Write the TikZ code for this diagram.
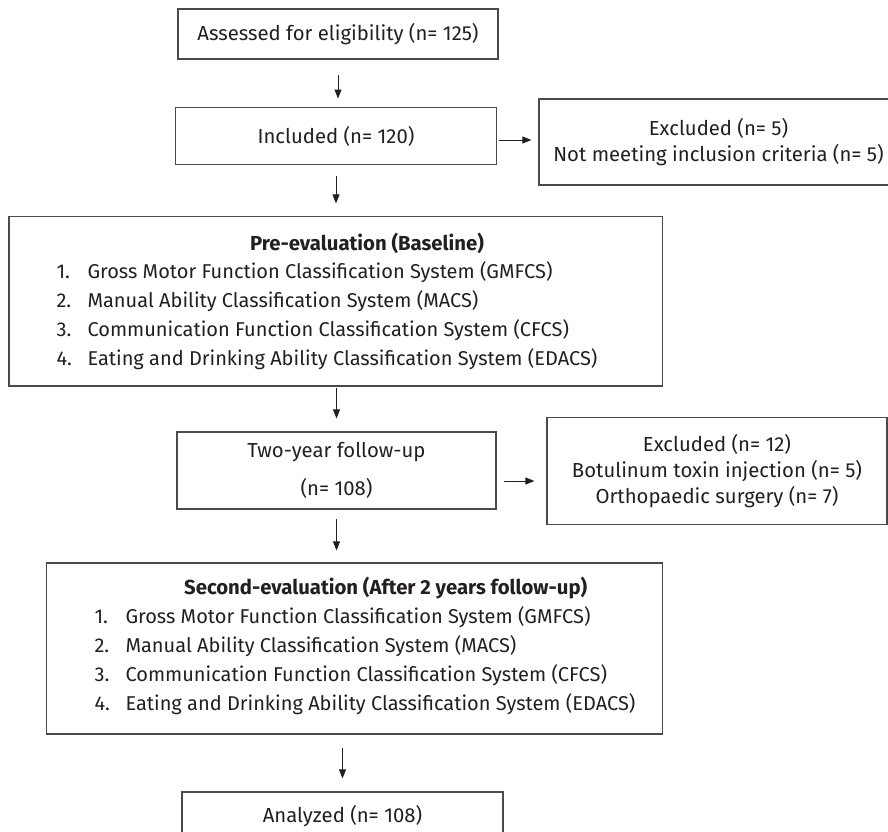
\documentclass[tikz,border=0pt]{standalone}
\usepackage{fontspec}
\setmainfont{Fira Sans}
\usetikzlibrary{arrows.meta}
\definecolor{linegray}{HTML}{4A4A4A}
\definecolor{textgray}{HTML}{231F20}
\newcommand{\itm}[2]{\makebox[31pt][l]{#1.}#2}

\begin{document}
\begin{tikzpicture}[x=1pt,y=-1pt,
  font=\fontsize{20.3}{26}\selectfont,
  box/.style={draw=linegray, line width=1.2pt, inner sep=0pt, align=center, text=textgray},
  arr/.style={-{Triangle[width=7pt,length=9pt]}, line width=1pt, draw=textgray},
  lst/.style={align=left, text=textgray, font=\fontsize{20}{29}\selectfont}]
  \useasboundingbox (0,0) rectangle (888,831);

  % main column
  \node[box, minimum width=320pt, minimum height=50pt] (assess) at (338,34) {Assessed for eligibility (n= 125)};
  \node[box, minimum width=320.5pt, minimum height=56.5pt] (incl) at (336,136) {Included (n= 120)};
  \node[box, minimum width=653.5pt, minimum height=169.3pt] (pre) at (335.75,301.35) {};
  \node[text=textgray] (pretitle) at (367,243) {\bfseries Pre-evaluation (Baseline)};
  \node[lst, anchor=west] (prelist) at (53,315.5) {\itm{1}{Gross Motor Function Classification System (GMFCS)}\\
    \itm{2}{Manual Ability Classification System (MACS)}\\
    \itm{3}{Communication Function Classification System (CFCS)}\\
    \itm{4}{Eating and Drinking Ability Classification System (EDACS)}};
  \node[box, minimum width=319pt, minimum height=77pt] (two) at (336.5,470.5) {Two-year follow-up\\[12pt](n= 108)};
  \node[box, minimum width=616pt, minimum height=171pt] (second) at (354.45,648.5) {};
  \node[text=textgray] (sectitle) at (385.7,588) {\bfseries Second-evaluation (After 2 years follow-up)};
  \node[lst, anchor=west] (seclist) at (91,660.5) {\itm{1}{Gross Motor Function Classification System (GMFCS)}\\
    \itm{2}{Manual Ability Classification System (MACS)}\\
    \itm{3}{Communication Function Classification System (CFCS)}\\
    \itm{4}{Eating and Drinking Ability Classification System (EDACS)}};
  \node[box, minimum width=321pt, minimum height=48pt] (analyzed) at (342.5,816) {Analyzed (n= 108)};

  % exclusions
  \node[box, minimum width=359pt, minimum height=86pt] (excla) at (718.5,142) {Excluded (n= 5)\\Not meeting inclusion criteria (n= 5)};
  \node[box, minimum width=340pt, minimum height=107.6pt] (exclb) at (717,471) {Excluded (n= 12)\\Botulinum toxin injection (n= 5)\\Orthopaedic surgery (n= 7)};

  \draw[arr, shorten <=15pt, shorten >=8.6pt] (assess.south) -- (assess.south |- incl.north);
  \draw[arr, shorten <=11pt, shorten >=12.7pt] (incl.south) -- (incl.south |- pre.north);
  \draw[arr, shorten <=1pt, shorten >=13pt] (two.north |- pre.south) -- (two.north);
  \draw[arr, shorten <=9pt, shorten >=12pt] (two.south) -- (two.south |- second.north);
  \draw[arr, shorten <=13pt, shorten >=13pt] (analyzed.north |- second.south) -- (analyzed.north);
  \draw[arr, shorten <=2pt, shorten >=7pt] ([yshift=-4pt]incl.east) -- ([yshift=-4pt]incl.east -| excla.west);
  \draw[arr, shorten <=7pt, shorten >=12pt] ([yshift=-10.5pt]two.east) -- ([yshift=-10.5pt]two.east -| exclb.west);
\end{tikzpicture}
\end{document}
